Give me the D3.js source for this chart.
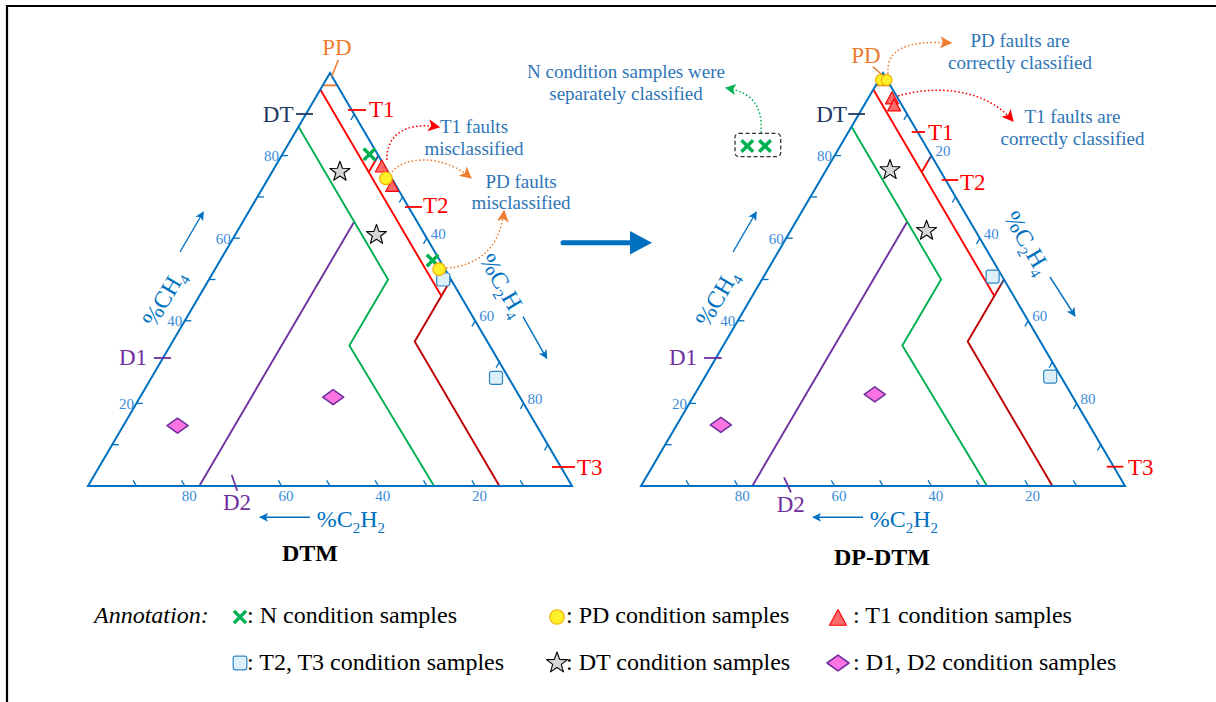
<!DOCTYPE html>
<html><head><meta charset="utf-8">
<script src="https://cdn.jsdelivr.net/npm/d3@7"></script>
<style>
html,body{margin:0;padding:0;background:#fff;}
svg{display:block;font-family:"Liberation Serif","Times New Roman",serif;}
</style></head><body>
<svg id="c" width="1216" height="702" font-family="Liberation Serif, Times New Roman, serif"></svg>
<script>
// ================= DATA =================
const panelNames = ["DTM", "DP-DTM"];
const tickValues = [10, 20, 30, 40, 50, 60, 70, 80, 90];
const tickLabelValues = [20, 40, 60, 80];
const leftEdgeTicks = [10, 20, 40, 50, 60, 70, 80];        // 30 & 90 replaced by D1 / DT marks
const bottomTicks = [10, 20, 30, 40, 50, 60, 80, 90];      // 70 replaced by D2 mark
const rightLabelsDTM = [40, 60, 80];
const rightLabelsDP = [20, 40, 60, 80];

// zone boundaries, points as [CH4 %, C2H4 %]
const pdBoundary = [[97, 0], [97, 3]];
const c2h2Four = [[96, 0], [46, 50]];
const t1t2Boundary = [[80, 20], [76, 20]];
const t3Boundary = [[50, 50], [35, 50], [0, 85]];
const dtBoundary = [[87, 0], [50, 37], [34, 37], [0, 71.5]];
const d1d2Boundary = [[64, 23], [0, 23]];

// samples, [CH4 %, C2H4 %]
const dtmN   = [[80.3, 18.0], [54.6, 43.9]];
const dtmPD  = [[74.5, 24.3], [52.5, 46.3]];
const dtmT1  = [[77.0, 22.2], [72.3, 26.7]];
const dtmT23 = [[50.0, 48.4], [26.2, 71.2]];
const dtmDT  = [[76.1, 14.0], [60.8, 29.2]];
const dtmD   = [[14.6, 11.2], [21.5, 39.9]];

const dpNSeparate = ["N1", "N2"];
const dpPD  = [[98.3, 0.4], [98.3, 1.6]];
const dpT1  = [[93.5, 5.1], [91.8, 6.4]];
const dpT23 = [[50.7, 47.3], [26.5, 71.3]];
const dpDT  = [[76.5, 13.2], [61.8, 28.1]];
const dpD   = [[14.8, 9.1], [22.2, 37.2]];

const legendSymbols = ["cross", "circle", "triangle", "square", "star", "diamond"];
const legendLabels = [": N condition samples", ": PD condition samples", ": T1 condition samples",
                      ": T2, T3 condition samples", ": DT condition samples", ": D1, D2 condition samples"];

// ================= DRAWING =================
const FONT = "Liberation Serif, Times New Roman, serif";
const C = {edge:"#0070c0", tick:"#3b8ad9", red:"#ff0000", dred:"#c00000", green:"#00b050",
           purple:"#7030a0", orange:"#ed7d31", navy:"#1f3864", note:"#2e75b6"};
const svg = d3.select("#c");
svg.append("rect").attr("width",1216).attr("height",702).attr("fill","#fff");
svg.append("path").attr("d","M7,702V6H1216").attr("fill","none").attr("stroke","#000").attr("stroke-width",2.2);

const defs = svg.append("defs");
function mk(id, color, w, h, notch){
  defs.append("marker").attr("id",id).attr("viewBox","0 0 10 10").attr("refX",9).attr("refY",5)
    .attr("markerUnits","userSpaceOnUse").attr("markerWidth",w).attr("markerHeight",h).attr("orient","auto")
    .append("path").attr("d", notch ? "M0,0L10,5L0,10L2.5,5Z" : "M0,0L10,5L0,10Z").attr("fill",color);
}
mk("aBlue", C.edge, 11, 9, true);
mk("aRed", C.red, 15, 12, true);
mk("aOrange", C.orange, 15, 12, true);
mk("aGreen", C.green, 14, 11, true);

function starPath(R, r){ let p=""; for(let i=0;i<10;i++){const rad=i%2?r:R; const a=-Math.PI/2+i*Math.PI/5; p+=(i?"L":"M")+(rad*Math.cos(a)).toFixed(2)+","+(rad*Math.sin(a)).toFixed(2);} return p+"Z"; }

function marker(g, type, x, y, k){
  k = k || 1;
  const t = `translate(${x},${y})`;
  if(type==="cross"){
    const s=5.8*k;
    g.append("path").attr("transform",t).attr("d",`M${-s},${-s}L${s},${s}M${-s},${s}L${s},${-s}`)
      .attr("stroke",C.green).attr("stroke-width",3.4).attr("fill","none");
  } else if(type==="circle"){
    g.append("circle").attr("transform",t).attr("r",6.3*k).attr("fill","#fff02a").attr("stroke","#f0b000").attr("stroke-width",1.2);
  } else if(type==="triangle"){
    const w=13*k, h=12*k;
    g.append("path").attr("transform",t).attr("d",`M0,${-2*h/3}L${w/2},${h/3}L${-w/2},${h/3}Z`)
      .attr("fill","#ff6b6b").attr("stroke",C.red).attr("stroke-width",1.1).attr("stroke-linejoin","round");
  } else if(type==="square"){
    const s=13*k;
    g.append("rect").attr("transform",t).attr("x",-s/2).attr("y",-s/2).attr("width",s).attr("height",s).attr("rx",2)
      .attr("fill","#dcf0fc").attr("stroke","#2e86c1").attr("stroke-width",1.2);
  } else if(type==="star"){
    g.append("path").attr("transform",t).attr("d",starPath(10.5*k,4.3*k))
      .attr("fill","#d6d6d6").attr("stroke","#000").attr("stroke-width",1.1).attr("stroke-linejoin","round");
  } else if(type==="diamond"){
    const w=21*k, h=15*k;
    g.append("path").attr("transform",t).attr("d",`M0,${-h/2}L${w/2},0L0,${h/2}L${-w/2},0Z`)
      .attr("fill","#fb74e2").attr("stroke",C.purple).attr("stroke-width",1.6).attr("stroke-linejoin","round");
  }
}

function chem(g, x, y, parts, fs, color, rot, anchor){
  const t = g.append("text").attr("transform",`translate(${x},${y}) rotate(${rot||0})`).attr("font-family",FONT)
    .attr("text-anchor",anchor||"middle").attr("fill",color).attr("font-size",fs).attr("y",fs*0.34);
  const sub = fs*0.62, sh = fs*0.24;
  let low=false;
  parts.forEach(p=>{
    const isSub = /^\d$/.test(p);
    const ts = t.append("tspan").text(p);
    if(isSub){ ts.attr("font-size",sub).attr("dy", low?0:sh); low=true; }
    else { ts.attr("dy", low?-sh:0); low=false; }
  });
}

function line(g, x1,y1,x2,y2,color,w){ g.append("line").attr("x1",x1).attr("y1",y1).attr("x2",x2).attr("y2",y2).attr("stroke",color).attr("stroke-width",w||1.8); }
function txt(g, x, y, s, fs, color, anchor, extra){ const t=g.append("text").attr("x",x).attr("y",y).attr("font-family",FONT).attr("font-size",fs).attr("fill",color).attr("text-anchor",anchor||"start").text(s); if(extra) extra(t); return t; }

const panels = [
  {name:panelNames[0], x0:88, N:dtmN, PD:dtmPD, T1:dtmT1, T23:dtmT23, DT:dtmDT, D:dtmD, rightLabels:rightLabelsDTM,
   pd:{tx:249, ty:55, l:[250.3,60,243.7,76.5]}, t1:{d:[260,278,110], tx:281, ty:117}, t2:{d:[317,334,207], tx:335, ty:213},
   dt:{d:[208,225,114], tx:205.5, ty:121.5}, t3:{d:[464,487,467], tx:489, ty:475}, d1:{d:[66,83,358], tx:59, ty:365},
   d2:{l:[143.7,475,149.3,490.7], tx:135, ty:510},
   c2h4:{cx:415, cy:285, a:[435,316.7,458.7,358.3]}, titleX:222, titleY:561},
  {name:panelNames[1], x0:641, N:[], PD:dpPD, T1:dpT1, T23:dpT23, DT:dpDT, D:dpD, rightLabels:rightLabelsDP,
   pd:{tx:225, ty:63, l:[231.7,66.5,242.3,76]}, t1:{d:[270.7,284,132], tx:287, ty:140}, t2:{d:[300.7,317.3,180], tx:319, ty:190},
   dt:{d:[207.3,224,114], tx:206, ty:121.5}, t3:{d:[465.7,482.3,466.7], tx:487, ty:475}, d1:{d:[63,80.7,358], tx:56, ty:365},
   d2:{l:[143,477.3,150,492.3], tx:135.7, ty:512},
   c2h4:{cx:386.5, cy:242.5, a:[409,277,434,316]}, titleX:241, titleY:565}
];

const W = 484, yB = 486, yT = 73;
const ang = Math.atan2(yT-yB, W/2)*180/Math.PI; // left edge angle

panels.forEach(p=>{
  const g = svg.append("g");
  const xS = d3.scaleLinear().domain([0,100]).range([p.x0, p.x0+W]);
  const yS = d3.scaleLinear().domain([0,100]).range([yB, yT]);
  const P = d => [xS(d[1] + d[0]/2), yS(d[0])];
  const lineGen = d3.line().x(d=>P(d)[0]).y(d=>P(d)[1]);
  const X = v => p.x0 + v;

  // zone boundaries
  const zl = (data,color)=> g.append("path").attr("d",lineGen(data)).attr("fill","none").attr("stroke",color).attr("stroke-width",1.9).attr("stroke-linejoin","miter");
  zl(d1d2Boundary, C.purple);
  zl(dtBoundary, C.green);
  zl(t3Boundary, C.dred);
  zl(c2h2Four, C.red);
  zl(t1t2Boundary, C.red);
  zl(pdBoundary, C.orange);

  // outline
  g.append("path").attr("d", lineGen([[0,0],[0,100],[100,0]]) + "Z").attr("fill","none").attr("stroke",C.edge).attr("stroke-width",2).attr("stroke-linejoin","miter");

  // ticks
  const L = 6.5;
  const uL = [0.5056, -0.8628]; // up-right
  leftEdgeTicks.forEach(v=>{ const [x,y]=P([v,0]); line(g,x,y,x+L,y,C.edge,1.3); });
  tickValues.forEach(v=>{ const [x,y]=P([100-v,v]); line(g,x,y,x-L*uL[0],y-L*uL[1],C.edge,1.3); });
  bottomTicks.forEach(v=>{ const [x,y]=P([0,100-v]); line(g,x,y,x-L*0.5056,y-L*0.8628,C.edge,1.3); });

  // tick labels
  tickLabelValues.forEach(v=>{ const [x,y]=P([v,0]); txt(g,x-2.5,y+5.5,String(v),15,C.tick,"end"); });
  p.rightLabels.forEach(v=>{ const [x,y]=P([100-v,v]); txt(g,x+4,y+0.5,String(v),15,C.tick,"start"); });
  tickLabelValues.forEach(v=>{ const [x,y]=P([0,100-v]); txt(g,x+4.4,y+14.5,String(v),15,C.tick,"middle"); });

  // zone labels
  const zf = 23;
  txt(g, X(p.pd.tx), p.pd.ty, "PD", zf, C.orange, "middle");
  line(g, X(p.pd.l[0]), p.pd.l[1], X(p.pd.l[2]), p.pd.l[3], C.orange, 1.6);
  line(g, X(p.dt.d[0]), p.dt.d[2], X(p.dt.d[1]), p.dt.d[2], C.navy, 1.8);
  txt(g, X(p.dt.tx), p.dt.ty, "DT", zf, C.navy, "end");
  [[p.t1,"T1"],[p.t2,"T2"],[p.t3,"T3"]].forEach(([o,s])=>{ line(g, X(o.d[0]), o.d[2], X(o.d[1]), o.d[2], C.red, 1.8); txt(g, X(o.tx), o.ty, s, zf, C.red, "start"); });
  line(g, X(p.d1.d[0]), p.d1.d[2], X(p.d1.d[1]), p.d1.d[2], C.purple, 1.8);
  txt(g, X(p.d1.tx), p.d1.ty, "D1", zf, C.purple, "end");
  line(g, X(p.d2.l[0]), p.d2.l[1], X(p.d2.l[2]), p.d2.l[3], C.purple, 1.8);
  txt(g, X(p.d2.tx), p.d2.ty, "D2", zf, C.purple, "start");

  // axis titles + arrows
  chem(g, X(75.5), 298, ["%CH","4"], 24, C.edge, ang, "middle");
  g.append("line").attr("x1",X(92)).attr("y1",252).attr("x2",X(115.3)).attr("y2",212).attr("stroke",C.edge).attr("stroke-width",1.4).attr("marker-end","url(#aBlue)");
  chem(g, X(p.c2h4.cx), p.c2h4.cy, ["%C","2","H","4"], 24, C.edge, -ang, "middle");
  g.append("line").attr("x1",X(p.c2h4.a[0])).attr("y1",p.c2h4.a[1]).attr("x2",X(p.c2h4.a[2])).attr("y2",p.c2h4.a[3]).attr("stroke",C.edge).attr("stroke-width",1.4).attr("marker-end","url(#aBlue)");
  chem(g, X(228.7), 519, ["%C","2","H","2"], 24, C.edge, 0, "start");
  g.append("line").attr("x1",X(222)).attr("y1",517.3).attr("x2",X(172)).attr("y2",517.3).attr("stroke",C.edge).attr("stroke-width",1.4).attr("marker-end","url(#aBlue)");

  // title
  txt(g, X(p.titleX), p.titleY, p.name, 24, "#000", "middle", t=>t.attr("font-weight","bold"));

  // samples
  p.DT.forEach(d=>{ const [x,y]=P(d); marker(g,"star",x,y); });
  p.D.forEach(d=>{ const [x,y]=P(d); marker(g,"diamond",x,y); });
  p.T23.forEach(d=>{ const [x,y]=P(d); marker(g,"square",x,y); });
  p.T1.forEach(d=>{ const [x,y]=P(d); marker(g,"triangle",x,y); });
  p.N.forEach(d=>{ const [x,y]=P(d); marker(g,"cross",x,y); });
  p.PD.forEach(d=>{ const [x,y]=P(d); marker(g,"circle",x,y, p.x0>300?0.85:1); });
});

// ---------- annotations ----------
const ann = svg.append("g");
function curve(d, color, mid){ ann.append("path").attr("d",d).attr("fill","none").attr("stroke",color).attr("stroke-width",1.5).attr("stroke-dasharray","1.6,2.2").attr("marker-end",`url(#${mid})`); }
function note(x, y, lines){ lines.forEach((s,i)=>txt(ann, x, y+i*21.5, s, 19, C.note, "middle")); }

// DTM
curve("M387,160C386,138 402,121 439,127", C.red, "aRed");
curve("M392,172C402,158 440,152 471,178", C.orange, "aOrange");
curve("M446,268C478,266 500,248 504,211", C.orange, "aOrange");
note(474, 133, ["T1 faults", "misclassified"]);
note(521, 187.5, ["PD faults", "misclassified"]);

// DP-DTM
curve("M888,74C886,50 905,40 951,43", C.orange, "aOrange");
curve("M898,96C935,85 985,88 1013,121", C.red, "aRed");
curve("M761,133C763,106 752,92 726,88", C.green, "aGreen");
note(1020, 47, ["PD faults are", "correctly classified"]);
note(1072.5, 123, ["T1 faults are", "correctly classified"]);
note(626, 78, ["N condition samples were", "separately classified"]);
ann.append("rect").attr("x",735).attr("y",133.3).attr("width",45.7).attr("height",23.4).attr("rx",4)
  .attr("fill","none").attr("stroke","#333").attr("stroke-width",1.3).attr("stroke-dasharray","4,2.5");
const boxX = d3.scalePoint().domain(dpNSeparate).range([747.3, 765]);
dpNSeparate.forEach(n=>marker(ann,"cross",boxX(n),146));

// central arrow
ann.append("line").attr("x1",563).attr("y1",242.7).attr("x2",632).attr("y2",242.7).attr("stroke",C.edge).attr("stroke-width",5).attr("stroke-linecap","round");
ann.append("path").attr("d","M630,231L652,242.7L630,254.4Z").attr("fill",C.edge);

// ---------- legend ----------
const lg = svg.append("g");
txt(lg, 94, 623, "Annotation:", 24, "#000", "start", t=>t.attr("font-style","italic"));
const colSym = [240, 557, 838], colTxt = [247, 566, 853];
const rowSym = [617, 663], rowTxt = [623, 670];
legendSymbols.forEach((s,i)=>{
  const c = i%3, r = Math.floor(i/3);
  const yy = rowSym[r] + (s==="triangle"?3:0);
  marker(lg, s, colSym[c], yy, s==="triangle"?1.3:(s==="circle"?1.15:1.05));
  txt(lg, colTxt[c], rowTxt[r], legendLabels[i], 24, "#000", "start");
});
</script>
</body></html>
